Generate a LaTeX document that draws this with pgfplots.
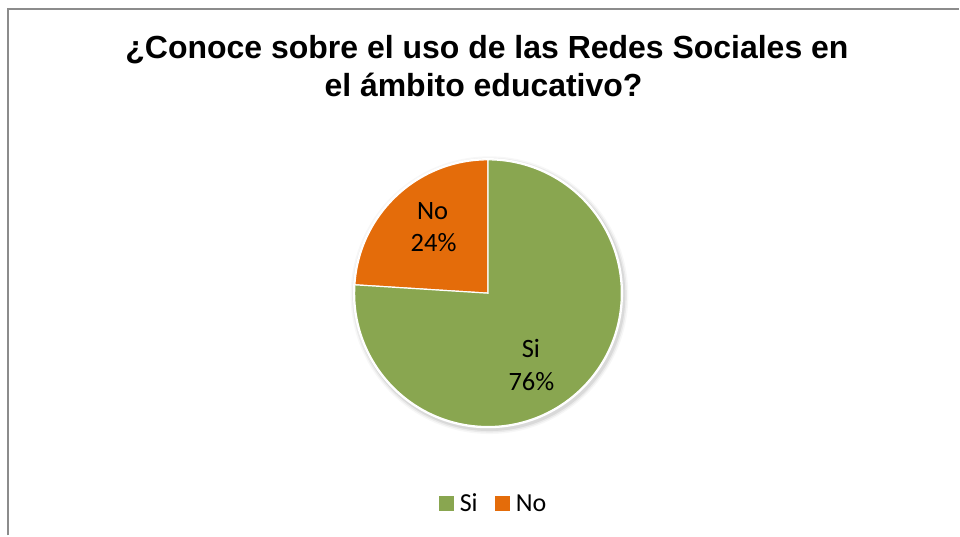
\documentclass[border=0pt]{standalone}
\usepackage{pgfplots}
\usepackage{pgfplotstable}
\pgfplotsset{compat=1.18}
\usepackage{fontspec}
\setmainfont{Liberation Sans}
\newfontfamily\carlito{Carlito}
\definecolor{siGreen}{HTML}{89A650}
\definecolor{noOrange}{HTML}{E46C0A}
\definecolor{frameGray}{HTML}{8C8C8C}
\pgfplotstableread{
label value
Si 76
No 24
}\piedata
\pgfplotstablegetelem{0}{value}\of\piedata \let\vSi\pgfplotsretval
\pgfplotstablegetelem{1}{value}\of\piedata \let\vNo\pgfplotsretval
\pgfmathsetmacro{\aStart}{90}
\pgfmathsetmacro{\aMid}{90+3.6*\vNo}
\pgfmathsetmacro{\aEnd}{\aMid+3.6*\vSi}
\begin{document}
\begin{tikzpicture}
\begin{axis}[
  x=1pt, y=1pt, scale only axis,
  xmin=0, xmax=960, ymin=0, ymax=536,
  hide axis, clip=false,
  legend image code/.code={\path[fill, draw=none] (0pt,-7.5pt) rectangle (15pt,7.5pt); \path (19pt,0pt);},
  legend style={draw=none, fill=none, legend columns=-1,
    font=\carlito\fontsize{26}{28}\selectfont,
    /tikz/every even column/.append style={column sep=15pt},
    at={(axis cs:494,32)}, anchor=center},
]
% background and frame
\fill[white] (axis cs:0,0) rectangle (axis cs:960,536);
\draw[frameGray, line width=2pt] (axis cs:8,0) -- (axis cs:8,527) -- (axis cs:960,527);
% title
\node[anchor=base, font=\bfseries\fontsize{32}{38}\selectfont] at (axis cs:487.5,477) {¿Conoce sobre el uso de las Redes Sociales en};
\node[anchor=base, font=\bfseries\fontsize{32}{38}\selectfont] at (axis cs:484,439) {el ámbito educativo?};
% pie shadow
\fill[black, opacity=0.03] (axis cs:490,240.5) circle (139pt);
\fill[black, opacity=0.05] (axis cs:490,240.5) circle (137.5pt);
\fill[black, opacity=0.07] (axis cs:490,240.5) circle (136pt);
\fill[white] (axis cs:488.5,242.5) circle (135.2pt);
% slices
\fill[noOrange, draw=white, line width=1.2pt] (axis cs:488.5,242.5) -- ++(\aStart:133.5pt) arc[start angle=\aStart, end angle=\aMid, radius=133.5pt] -- cycle;
\fill[siGreen, draw=white, line width=1.2pt] (axis cs:488.5,242.5) -- ++(\aMid:133.5pt) arc[start angle=\aMid, end angle=\aEnd, radius=133.5pt] -- cycle;
% data labels
\node[anchor=base, font=\carlito\fontsize{26.5}{28}\selectfont] at (axis cs:433,316) {No};
\node[anchor=base, font=\carlito\fontsize{26.5}{28}\selectfont] at (axis cs:434,284) {\vNo\%};
\node[anchor=base, font=\carlito\fontsize{26.5}{28}\selectfont] at (axis cs:531.5,178) {Si};
\node[anchor=base, font=\carlito\fontsize{26.5}{28}\selectfont] at (axis cs:532,145) {\vSi\%};
% legend
\addlegendimage{fill=siGreen}
\addlegendentry{Si}
\addlegendimage{fill=noOrange}
\addlegendentry{No}
\end{axis}
\end{tikzpicture}
\end{document}
